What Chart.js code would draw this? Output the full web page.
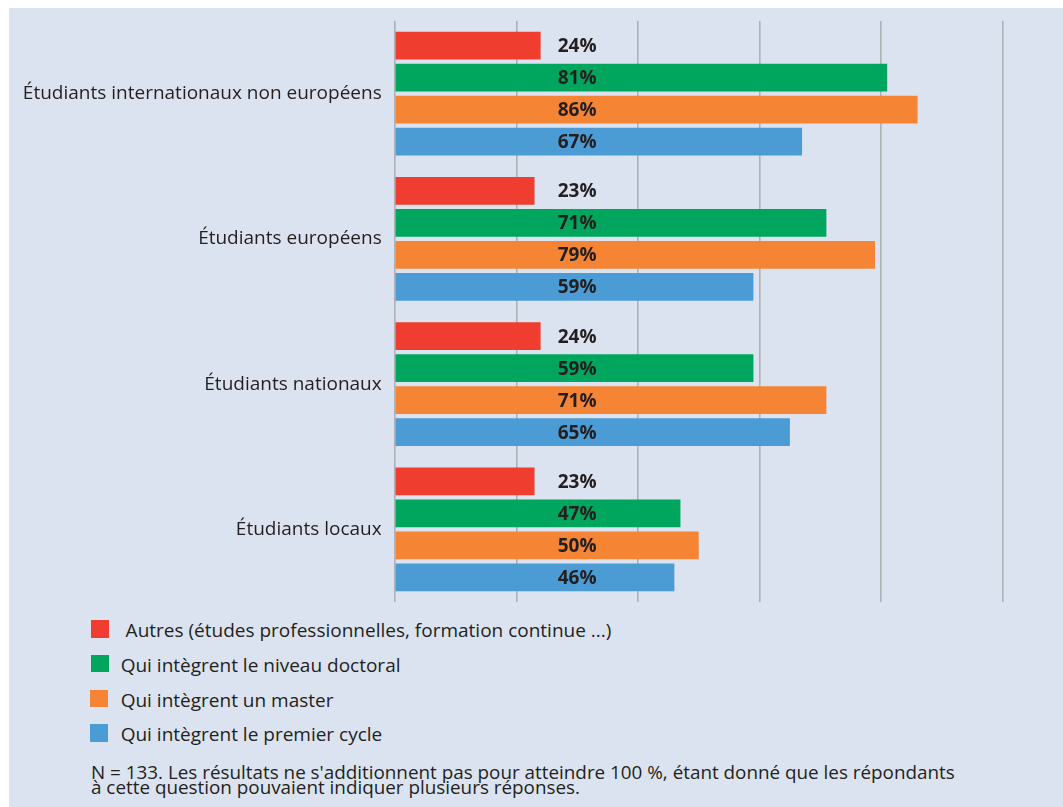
<!DOCTYPE html>
<html><head><meta charset="utf-8">
<script src="https://cdn.jsdelivr.net/npm/chart.js@4"></script>
<style>
html,body{margin:0;padding:0;background:#fff;width:1063px;height:807px;overflow:hidden;font-family:"Open Sans",sans-serif;color:#231f20;}
#panel{position:absolute;left:9px;top:8px;width:1054px;height:799px;background:#dce3f0;}
#wrap{position:absolute;left:0;top:0;width:1063px;height:615px;}
#legend{position:absolute;left:0;top:0;font-size:19px;}
.sw{position:absolute;width:18px;height:17.5px;}
.lt{position:absolute;white-space:nowrap;line-height:20px;}
#note{position:absolute;left:91px;top:765.4px;font-size:18.85px;line-height:14.5px;white-space:nowrap;}
</style></head><body>
<div id="panel"></div>
<div id="wrap"><canvas id="c" width="1063" height="615"></canvas></div>
<div id="legend"></div>
<div id="note">N = 133. Les résultats ne s'additionnent pas pour atteindre 100 %, étant donné que les répondants<br>à cette question pouvaient indiquer plusieurs réponses.</div>
<script>
const categories = ["Étudiants internationaux non européens","Étudiants européens","Étudiants nationaux","Étudiants locaux"];
const seriesNames = [" Autres (études professionnelles, formation continue ...)","Qui intègrent le niveau doctoral","Qui intègrent un master","Qui intègrent le premier cycle"];
const autres = [24,23,24,23];
const doctoral = [81,71,59,47];
const master = [86,79,71,50];
const premierCycle = [67,59,65,46];
const xTicks = [0,20,40,60,80,100];
const colors = ["#ef3e2f","#00a65d","#f58434","#4b9bd5"];

const seriesValues = [autres, doctoral, master, premierCycle];
const datasets = seriesValues.map((v,i)=>({label:seriesNames[i],data:v,backgroundColor:colors[i],borderWidth:0,categoryPercentage:0.881,barPercentage:0.866}));

const labelPlugin = {
  id:'fixedLabels',
  afterDatasetsDraw(chart){
    const ctx = chart.ctx;
    const x = chart.scales.x.getPixelForValue(30);
    ctx.save();
    ctx.font = 'bold 19px "Open Sans"';
    ctx.fillStyle = '#231f20';
    ctx.textAlign = 'center';
    ctx.textBaseline = 'middle';
    chart.data.datasets.forEach((ds,di)=>{
      chart.getDatasetMeta(di).data.forEach((bar,j)=>{
        ctx.fillText(ds.data[j]+'%', x, bar.y+1);
      });
    });
    ctx.restore();
  }
};

new Chart(document.getElementById('c'),{
  type:'bar',
  data:{labels:categories,datasets},
  options:{
    indexAxis:'y',
    responsive:false,
    animation:false,
    layout:{padding:{left:0,right:60.3,top:21,bottom:13}},
    plugins:{legend:{display:false},tooltip:{enabled:false}},
    scales:{
      x:{min:0,max:100,
        afterBuildTicks(s){s.ticks = xTicks.map(v=>({value:v}));},
        afterFit(s){s.height = 0; s.paddingLeft = 0; s.paddingRight = 0;},
        ticks:{display:false},
        grid:{color:'#aeb1b5',lineWidth:1.6,drawTicks:false},
        border:{display:false}},
      y:{
        afterFit(s){s.width = 394.7; s.paddingTop = 0; s.paddingBottom = 0;},
        ticks:{padding:13,color:'#231f20',font:{family:'"Open Sans"',size:19}},
        grid:{display:false,drawTicks:false},
        border:{display:false}}
    }
  },
  plugins:[labelPlugin]
});

const lg = document.getElementById('legend');
seriesNames.forEach((n,i)=>{
  const top = 620.3 + 34.6*i;
  const sw=document.createElement('span');sw.className='sw';
  sw.style.cssText='left:'+(i<2?91:90)+'px;top:'+top+'px;background:'+colors[i];
  const t=document.createElement('span');t.className='lt';
  t.style.left='120.7px';t.style.top=(top+17.4-17.35)+'px';
  t.textContent=n.replace(/^ /,'\u00a0');
  lg.appendChild(sw);lg.appendChild(t);
});
</script>
</body></html>
